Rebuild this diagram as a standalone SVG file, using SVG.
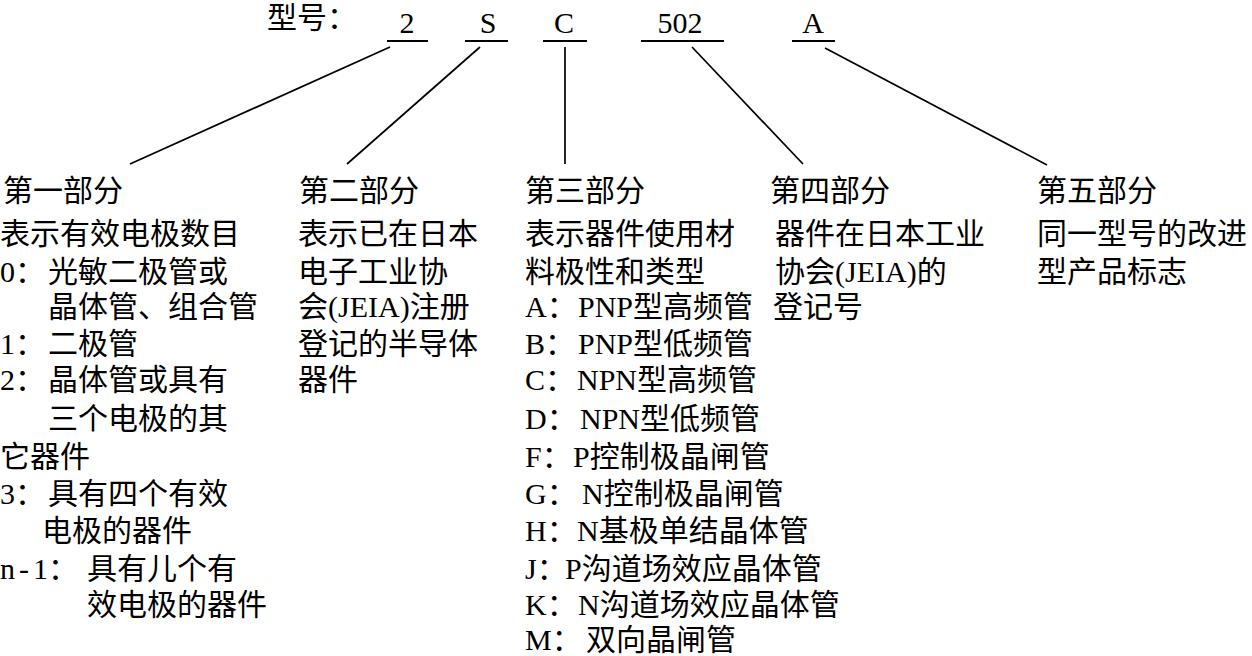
<svg xmlns="http://www.w3.org/2000/svg" width="1252" height="656" viewBox="0 0 1252 656">
<style>
text{font-family:"Liberation Serif","Noto Sans CJK SC",serif;font-size:30px;fill:#000}
.ul{stroke:#000;stroke-width:2;fill:none}
.cn{stroke:#000;stroke-width:1.7;fill:none}
</style>
<rect width="1252" height="656" fill="#fff"/>
<g id="model">
<text x="267" y="28">型号：</text>
<text x="407" y="33" text-anchor="middle">2</text>
<text x="488" y="33" text-anchor="middle">S</text>
<text x="564" y="33" text-anchor="middle">C</text>
<text x="680" y="33" text-anchor="middle">502</text>
<text x="813" y="33" text-anchor="middle">A</text>
<line class="ul" x1="387" y1="41" x2="428" y2="41"/>
<line class="ul" x1="465" y1="41" x2="508" y2="41"/>
<line class="ul" x1="543" y1="41" x2="587" y2="41"/>
<line class="ul" x1="641" y1="41" x2="724" y2="41"/>
<line class="ul" x1="792" y1="41" x2="835" y2="41"/>
</g>
<g id="connectors">
<line class="cn" x1="390" y1="47" x2="130" y2="164"/>
<line class="cn" x1="480" y1="47" x2="347" y2="164"/>
<line class="cn" x1="565" y1="47" x2="565" y2="164"/>
<line class="cn" x1="692" y1="47" x2="803" y2="164"/>
<line class="cn" x1="825" y1="48" x2="1047" y2="165"/>
</g>
<g id="part1">
<text x="3" y="201">第一部分</text>
<text x="0" y="244">表示有效电极数目</text>
<text x="0" y="282">0：<tspan x="48">光敏二极管或</tspan></text>
<text x="48" y="317">晶体管、组合管</text>
<text x="0" y="354">1：<tspan x="48">二极管</tspan></text>
<text x="0" y="390">2：<tspan x="48">晶体管或具有</tspan></text>
<text x="48" y="429">三个电极的其</text>
<text x="0" y="467">它器件</text>
<text x="0" y="504">3：<tspan x="48">具有四个有效</tspan></text>
<text x="42" y="541">电极的器件</text>
<text x="0" y="579">n<tspan x="19">-</tspan><tspan x="33">1：</tspan><tspan x="87">具有儿个有</tspan></text>
<text x="87" y="615">效电极的器件</text>
</g>
<g id="part2">
<text x="299" y="201">第二部分</text>
<text x="298" y="244">表示已在日本</text>
<text x="298" y="282">电子工业协</text>
<text x="298" y="317">会(JEIA)注册</text>
<text x="298" y="354">登记的半导体</text>
<text x="298" y="390">器件</text>
</g>
<g id="part3">
<text x="525" y="201">第三部分</text>
<text x="525" y="244">表示器件使用材</text>
<text x="525" y="282">料极性和类型</text>
<text x="525" y="317">A：<tspan x="578">PNP型高频管</tspan></text>
<text x="525" y="354">B：<tspan x="578">PNP型低频管</tspan></text>
<text x="525" y="390">C：<tspan x="577">NPN型高频管</tspan></text>
<text x="525" y="429">D：<tspan x="580">NPN型低频管</tspan></text>
<text x="525" y="467">F：<tspan x="573">P控制极晶闸管</tspan></text>
<text x="525" y="504">G：<tspan x="582">N控制极晶闸管</tspan></text>
<text x="525" y="541">H：<tspan x="577">N基极单结晶体管</tspan></text>
<text x="525" y="579">J：<tspan x="565">P沟道场效应晶体管</tspan></text>
<text x="525" y="615">K：<tspan x="578">N沟道场效应晶体管</tspan></text>
<text x="525" y="650">M：<tspan x="586">双向晶闸管</tspan></text>
</g>
<g id="part4">
<text x="770" y="201">第四部分</text>
<text x="775" y="244">器件在日本工业</text>
<text x="775" y="282">协会(JEIA)的</text>
<text x="773" y="317">登记号</text>
</g>
<g id="part5">
<text x="1037" y="201">第五部分</text>
<text x="1037" y="244">同一型号的改进</text>
<text x="1037" y="282">型产品标志</text>
</g>
</svg>
